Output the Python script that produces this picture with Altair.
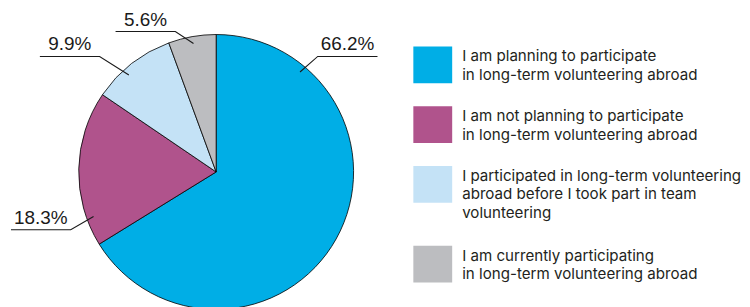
import math
import altair as alt
import pandas as pd

# ---------------- data ----------------
categories = [
    "I am planning to participate in long-term volunteering abroad",
    "I am not planning to participate in long-term volunteering abroad",
    "I participated in long-term volunteering abroad before I took part in team volunteering",
    "I am currently participating in long-term volunteering abroad",
]
values = [66.2, 18.3, 9.9, 5.6]
value_labels = ["66.2%", "18.3%", "9.9%", "5.6%"]
legend_lines = [
    ["I am planning to participate", "in long-term volunteering abroad"],
    ["I am not planning to participate", "in long-term volunteering abroad"],
    ["I participated in long-term volunteering", "abroad before I took part in team", "volunteering"],
    ["I am currently participating", "in long-term volunteering abroad"],
]
colors = ["#00aee6", "#b0538c", "#c4e2f6", "#bcbdc0"]

# ---------------- layout (page pixels) ----------------
W, H = 734, 291
OFF = 8
CX, CY, R = 215, 172, 138
TIP_R = 131
# per label: leader tip angle (deg, clockwise from top), elbow point, horizontal end x
leaders = [
    (40, (317, 56), 377),
    (250, (69, 230), 9),
    (318, (98, 56), 38),
    (350, (174, 31), 114),
]
LEG_X, LEG_SQ_W, LEG_SQ_H, LEG_TOP = 413, 39, 37, 46
LEG_TEXT_X, LINE_H = 462, 18.5

pie_df = pd.DataFrame({"cat": categories, "value": values, "idx": range(len(values))})

# leader lines and labels
lead_rows, lab_rows = [], []
for i, (ang, (ex, ey), endx) in enumerate(leaders):
    a = math.radians(ang)
    tx, ty = CX + TIP_R * math.sin(a), CY - TIP_R * math.cos(a)
    for s, (px, py) in enumerate([(tx, ty), (ex, ey), (endx, ey)]):
        lead_rows.append({"k": i, "s": s, "x": px - OFF, "y": py - OFF})
    lab_rows.append({"t": value_labels[i], "x": (ex + endx) / 2 - OFF, "y": ey - 6 - OFF})
lead_df = pd.DataFrame(lead_rows)
lab_df = pd.DataFrame(lab_rows)

# legend
sq_rows, txt_rows = [], []
top = LEG_TOP
for i, lines in enumerate(legend_lines):
    sq_rows.append({"cat": categories[i], "x": LEG_X - OFF, "x2": LEG_X + LEG_SQ_W - OFF,
                    "y": top - OFF, "y2": top + LEG_SQ_H - OFF})
    for j, ln in enumerate(lines):
        txt_rows.append({"t": ln, "x": LEG_TEXT_X - OFF, "y": top + 10 + j * LINE_H - OFF})
    top += 20 * len(lines) + 20
sq_df = pd.DataFrame(sq_rows)
txt_df = pd.DataFrame(txt_rows)

xs = alt.Scale(domain=[0, W], range=[0, W], nice=False, zero=False)
ys = alt.Scale(domain=[0, H], range=[0, H], nice=False, zero=False)
cscale = alt.Scale(domain=categories, range=colors)

pie = alt.Chart(pie_df).mark_arc(outerRadius=R, stroke="#000000", strokeWidth=0.8).encode(
    theta=alt.Theta("value:Q", stack=True),
    order=alt.Order("idx:Q"),
    color=alt.Color("cat:N", scale=cscale, legend=None),
    x=alt.value(CX - OFF),
    y=alt.value(CY - OFF),
)

lead = alt.Chart(lead_df).mark_line(color="#1a1a1a", strokeWidth=1.1).encode(
    x=alt.X("x:Q", scale=xs, axis=None),
    y=alt.Y("y:Q", scale=ys, axis=None),
    detail="k:N",
    order="s:Q",
)

labs = alt.Chart(lab_df).mark_text(font="Liberation Sans", fontSize=19, align="center",
                                    baseline="alphabetic", color="#1a1a1a").encode(
    x=alt.X("x:Q", scale=xs, axis=None),
    y=alt.Y("y:Q", scale=ys, axis=None),
    text="t:N",
)

sq = alt.Chart(sq_df).mark_rect().encode(
    x=alt.X("x:Q", scale=xs, axis=None), x2="x2:Q",
    y=alt.Y("y:Q", scale=ys, axis=None), y2="y2:Q",
    color=alt.Color("cat:N", scale=cscale, legend=None),
)

txt = alt.Chart(txt_df).mark_text(font="Inter", fontSize=15.2, align="left",
                                   baseline="middle", color="#231f20").encode(
    x=alt.X("x:Q", scale=xs, axis=None),
    y=alt.Y("y:Q", scale=ys, axis=None),
    text="t:N",
)

chart = alt.layer(pie, lead, labs, sq, txt).properties(
    width=W, height=H, padding=0
).configure_view(stroke=None)

chart.save("out.html", embed_options={"renderer": "svg", "actions": False})
